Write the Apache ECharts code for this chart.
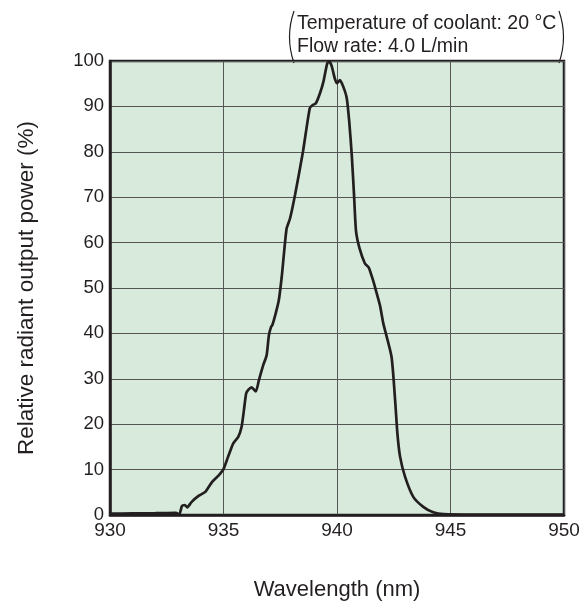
<!DOCTYPE html>
<html>
<head>
<meta charset="utf-8">
<script src="https://cdn.jsdelivr.net/npm/echarts@6/dist/echarts.min.js"></script>
<style>html,body{margin:0;padding:0;background:#fff;}#c{width:579px;height:601px;}</style>
</head>
<body>
<div id="c"></div>
<script>
const wavelength = [930, 931, 932, 932.9, 933.05, 933.17, 933.3, 933.4, 933.6, 933.9, 934.2, 934.5, 934.8, 935.0, 935.2, 935.43, 935.65, 935.8, 935.9, 936.0, 936.1, 936.24, 936.42, 936.56, 936.75, 936.9, 937.0, 937.1, 937.15, 937.3, 937.44, 937.56, 937.63, 937.78, 937.93, 938.15, 938.5, 938.8, 938.93, 939.07, 939.25, 939.4, 939.57, 939.66, 939.77, 939.9, 940.0, 940.13, 940.28, 940.43, 940.54, 940.65, 940.75, 940.84, 941.0, 941.23, 941.4, 941.6, 941.75, 941.9, 942.04, 942.4, 942.56, 942.66, 942.78, 943.0, 943.36, 943.8, 944.24, 944.7, 946, 950];
const power = [0.3, 0.35, 0.4, 0.5, 0.1, 2.0, 2.2, 1.7, 2.9, 4.2, 5.1, 7.3, 8.8, 10.1, 12.8, 15.8, 17.2, 19.5, 23.1, 26.8, 27.6, 28.1, 27.2, 29.7, 33.0, 35.2, 39.6, 41.5, 41.8, 44.4, 47.4, 52.2, 55.8, 63.1, 65.3, 70.5, 80.0, 89.6, 90.3, 90.7, 92.9, 95.4, 99.5, 99.9, 98.8, 96.2, 95.1, 95.8, 94.3, 91.8, 86.6, 79.3, 70.5, 62.4, 58.6, 55.4, 54.5, 51.5, 48.8, 46.0, 42.2, 34.9, 25.3, 18.0, 12.8, 8.4, 4.0, 1.8, 0.6, 0.2, 0.1, 0.1];
const xTicks = [930, 935, 940, 945, 950];
const yTicks = [0, 10, 20, 30, 40, 50, 60, 70, 80, 90, 100];
const noteLines = ['Temperature of coolant: 20 °C', 'Flow rate: 4.0 L/min'];
const xTitle = 'Wavelength (nm)';
const yTitle = 'Relative radiant output power (%)';

const font = '"Liberation Sans", Arial, Helvetica, sans-serif';
const ink = '#231f20';
const chart = echarts.init(document.getElementById('c'));
chart.setOption({
  animation: false,
  grid: {left: 110, right: 15, top: 61, bottom: 86, outerBoundsMode: 'none', containLabel: false, show: true, backgroundColor: '#d7eadc', borderColor: ink, borderWidth: 2.5},
  xAxis: {
    type: 'value', min: xTicks[0], max: xTicks[xTicks.length-1], interval: 5,
    name: xTitle, nameLocation: 'middle', nameGap: 64,
    nameTextStyle: {fontFamily: font, fontSize: 22, color: ink},
    axisLine: {show: true, lineStyle: {color: ink, width: 2.5}},
    axisTick: {show: false},
    axisLabel: {fontFamily: font, fontSize: 19, color: ink, margin: 6},
    splitLine: {show: true, lineStyle: {color: '#555', width: 1}}
  },
  yAxis: {
    type: 'value', min: yTicks[0], max: yTicks[yTicks.length-1], interval: 10,
    name: yTitle, nameLocation: 'middle', nameGap: 72,
    nameTextStyle: {fontFamily: font, fontSize: 22.5, color: ink},
    axisLine: {show: true, lineStyle: {color: ink, width: 2.5}},
    axisTick: {show: false},
    axisLabel: {fontFamily: font, fontSize: 18.5, color: ink, margin: 6},
    splitLine: {show: true, lineStyle: {color: '#555', width: 1}}
  },
  series: [{
    type: 'line', data: wavelength.map((w, i) => [w, power[i]]),
    showSymbol: false, smooth: 0.2, clip: true,
    lineStyle: {color: ink, width: 2.7}
  }],
  graphic: [
    {type: 'text', x: 297, y: 24, style: {text: noteLines[0], font: '19.5px ' + font, fill: ink, textVerticalAlign: 'middle'}},
    {type: 'text', x: 297, y: 47, style: {text: noteLines[1], font: '19.5px ' + font, fill: ink, textVerticalAlign: 'middle'}},
    {type: 'bezierCurve', shape: {x1: 294, y1: 11, x2: 294, y2: 63, cpx1: 285, cpy1: 37}, style: {stroke: ink, lineWidth: 1.2, fill: null}},
    {type: 'bezierCurve', shape: {x1: 559, y1: 11, x2: 559, y2: 63, cpx1: 568, cpy1: 37}, style: {stroke: ink, lineWidth: 1.2, fill: null}}
  ]
});
</script>
</body>
</html>
